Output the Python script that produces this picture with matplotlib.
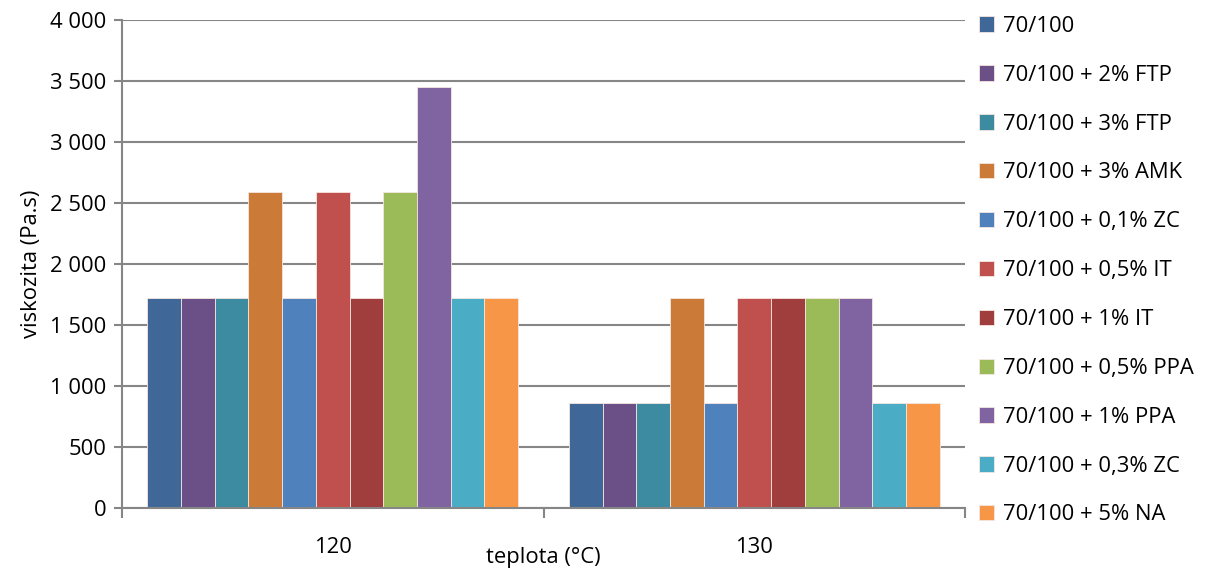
import matplotlib
matplotlib.use("Agg")
import matplotlib.pyplot as plt
import numpy as np
from matplotlib.ticker import FixedLocator, FuncFormatter

categories = ["120", "130"]
series = ["70/100", "70/100 + 2% FTP", "70/100 + 3% FTP", "70/100 + 3% AMK",
          "70/100 + 0,1% ZC", "70/100 + 0,5% IT", "70/100 + 1% IT",
          "70/100 + 0,5% PPA", "70/100 + 1% PPA", "70/100 + 0,3% ZC",
          "70/100 + 5% NA"]
values_120 = [1725, 1725, 1725, 2587.5, 1725, 2587.5, 1725, 2587.5, 3450, 1725, 1725]
values_130 = [862.5, 862.5, 862.5, 1725, 862.5, 1725, 1725, 1725, 1725, 862.5, 862.5]
colors = ["#3F6899", "#6A5087", "#3C8BA0", "#CB7B37", "#4F81BD", "#C0504D",
          "#9F3E3D", "#9BBB59", "#8064A2", "#4BACC6", "#F79646"]
y_ticks = [0, 500, 1000, 1500, 2000, 2500, 3000, 3500, 4000]

plt.rcParams['font.family'] = ['Open Sans', 'DejaVu Sans']
W, H = 1215, 572
FS = 15.8
fig = plt.figure(figsize=(W/100, H/100), dpi=100)
ax = fig.add_axes([122/W, 1-508/H, (965-122)/W, (508-20)/H])

n = len(series)
bw = 1/12.5
x = np.arange(len(categories))
gray = "#868686"
for i, (s, c) in enumerate(zip(series, colors)):
    vals = [values_120[i], values_130[i]]
    ax.bar(x + (i - (n-1)/2)*bw, vals, width=bw, color=c, edgecolor="#F5E6E0",
           linewidth=0.6, label=s, zorder=3)

ax.set_xlim(-0.5, len(categories)-0.5)
ax.set_ylim(0, 4000)
ax.yaxis.set_major_locator(FixedLocator(y_ticks))
ax.yaxis.set_major_formatter(FuncFormatter(lambda v, p: f"{int(v):,}".replace(",", " ")))
ax.grid(axis='y', color=gray, linewidth=1.5, zorder=0)
ax.set_xticks(x)
ax.set_xticklabels(categories)
ax.set_xticks([-0.5, 0.5, 1.5], minor=True)
ax.tick_params(axis='x', which='major', length=0, pad=21, labelsize=FS)
ax.tick_params(axis='x', which='minor', length=7, width=1.5, color=gray, direction='out')
ax.tick_params(axis='y', length=6, width=1.5, color=gray, labelsize=FS, pad=5)
for side in ['top', 'right']:
    ax.spines[side].set_visible(False)
for side in ['left', 'bottom']:
    ax.spines[side].set_color(gray)
    ax.spines[side].set_linewidth(1.5)
ax.spines['left'].set_zorder(4)
ax.spines['bottom'].set_zorder(4)

ax.set_ylabel("viskozita (Pa.s)", fontsize=FS, labelpad=6)
fig.text(543/W, 1-557/H, "teplota (°C)", fontsize=FS, ha='center', va='center')

leg = fig.legend(loc='upper left', bbox_to_anchor=(970/W, 1-7/H), frameon=False,
                 fontsize=FS, handlelength=0.7, handleheight=0.7, handletextpad=0.4,
                 labelspacing=1.27, borderaxespad=0)

fig.savefig("out.png", dpi=100)
